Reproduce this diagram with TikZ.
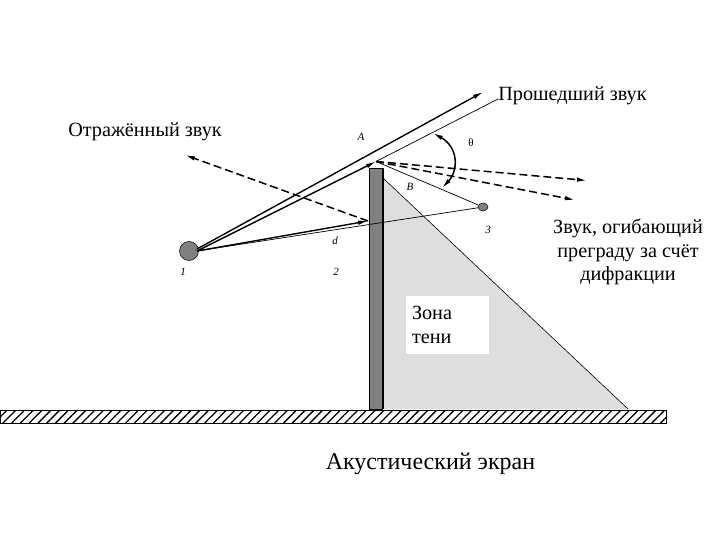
\documentclass[tikz,border=0pt]{standalone}
\usepackage{fontspec}
\setmainfont{Liberation Serif}
\usepackage{tikz}
\usetikzlibrary{arrows.meta,patterns.meta,shapes.geometric}
\tikzset{>={Latex[length=10pt,width=4.5pt]}}
\tikzset{
  ray/.style={line width=1.4pt,->},
  thinray/.style={line width=0.7pt},
  dashray/.style={line width=1.5pt,dash pattern=on 8pt off 4pt,->},
  caption/.style={font=\fontsize{20.2}{23.5}\selectfont,align=center,inner sep=0pt},
  marklabel/.style={font=\fontsize{11}{12}\selectfont\itshape,inner sep=0pt}
}
\definecolor{shadowgray}{gray}{0.87}
\definecolor{screengray}{gray}{0.5}

\begin{document}
\begin{tikzpicture}[x=1pt,y=-1pt]
            \useasboundingbox (0,0) rectangle (720,540);
            % ground and shadow
            \fill[shadowgray] (383,178) -- (383,409) -- (628,409) -- cycle;
            \draw[line width=0.6pt] (383,178) -- (628,409);
            \draw[line width=1pt,pattern={Lines[angle=45,distance=6.2pt,line width=1.3pt]}] (0,410) rectangle (666,423);
            \node (shadowbox) [fill=white,minimum width=83pt,minimum height=58pt,inner sep=0pt,text width=71pt,align=left,font=\fontsize{20.2}{24}\selectfont] at (447.5,325) {Зона\\тени};
            % screen
            \draw[line width=0.6pt,fill=screengray] (369,168) rectangle (382,409);
            \draw[line width=2pt] (383,168) -- (383,409);
            % source and receiver
            \node (source) [circle,draw,line width=0.5pt,fill=gray,minimum size=19pt,inner sep=0pt] at (189,251) {};
            \node (receiver) [ellipse,draw,line width=0.5pt,fill=gray,minimum width=10pt,minimum height=8pt,inner sep=0pt] at (483,207) {};
            \coordinate (edge) at (376,161.5);
            \coordinate (direct end) at (483,92);
            \coordinate (reflect pt) at (368,221);
            \coordinate (reflect end) at (185,155);
            \coordinate (diffr one) at (587,180.5);
            \coordinate (diffr two) at (575,200);
            \coordinate (leader end) at (498,99);
            \coordinate (arc start) at (433,133);
            \coordinate (arc end) at (442,188);
            % rays
            \draw[ray] (source.center) ++(8,-2) -- (direct end);
            \draw[ray] (source.center) ++(8,0) -- (edge);
            \draw[ray] (source.center) ++(8,0) -- (reflect pt);
            \draw[thinray] (source.center) ++(8,0) -- (receiver);
            \draw[thinray] (edge) -- (receiver);
            \draw[thinray] (edge) -- (leader end);
            \draw[dashray] (reflect pt) -- (reflect end);
            \draw[dashray] (edge) -- (diffr one);
            \draw[dashray] (edge) -- (diffr two);
            \draw[line width=1.5pt,<->] (arc start) .. controls (458,147) and (459,170) .. (arc end);
            % labels
            \node (mark a) [marklabel] at (361,137) {A};
            \node (mark b) [marklabel] at (410,187) {B};
            \node (mark d) [marklabel] at (335,241) {d};
            \node (mark one) [marklabel] at (183,272) {1};
            \node (mark two) [marklabel] at (336,272) {2};
            \node (mark three) [marklabel] at (488,230) {3};
            \node (mark theta) [font=\fontsize{11}{12}\selectfont,inner sep=0pt] at (471,143) {θ};
            \node (passed) [caption] at (572.5,96) {Прошедший звук};
            \node (reflected) [caption] at (145,131.5) {Отражённый звук};
            \node (bent) [caption] at (628,252) {Звук, огибающий\\преграду за счёт\\дифракции};
            \node (title) [caption,font=\fontsize{24}{26}\selectfont] at (430.5,464) {Акустический экран};
        \end{tikzpicture}
\end{document}
